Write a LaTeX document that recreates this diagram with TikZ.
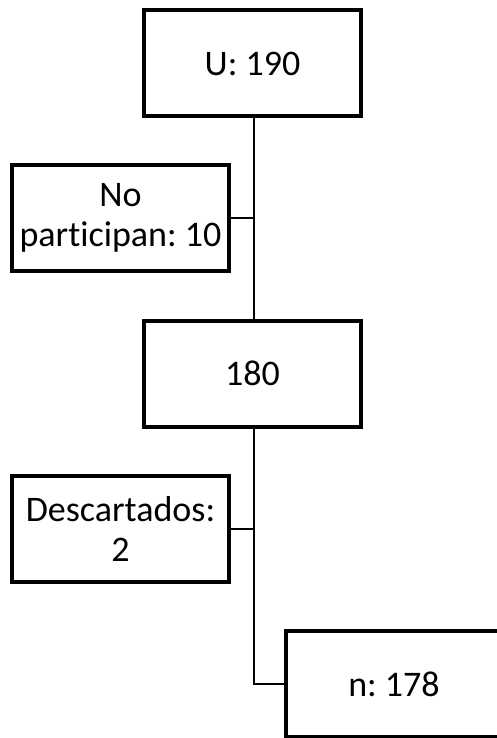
\documentclass[tikz,border=0pt]{standalone}
\usepackage{fontspec}
\setmainfont{Carlito}[Ligatures=NoCommon]
\frenchspacing
\begin{document}
\begin{tikzpicture}[x=1pt,y=-1pt,
  box/.style={draw, line width=4pt, minimum width=217pt, minimum height=106pt,
    align=center, inner sep=0pt, font=\fontsize{36}{40.5}\selectfont\frenchspacing},
  conn/.style={line width=1.3pt}]
\useasboundingbox (0,0) rectangle (497,738);
\node[box] (U) at (252.5,63.5) {U: 190};
\node[box] (np) at (120.5,218) {No\\participan: 10};
\node[box] (m) at (252.5,373.5) {180};
\node[box] (d) at (120.5,529) {Descartados:\\2};
\node[box] (n) at (394,684) {n: 178};
\coordinate (c1) at (254,218);
\coordinate (c2) at (254,529);
\coordinate (c3) at (254,684);
\draw[conn] (254,118) -- (254,319);
\draw[conn] (np.east) -- (c1);
\draw[conn] (254,428) -- (c3) -- (n.west);
\draw[conn] (d.east) -- (c2);
\end{tikzpicture}
\end{document}
